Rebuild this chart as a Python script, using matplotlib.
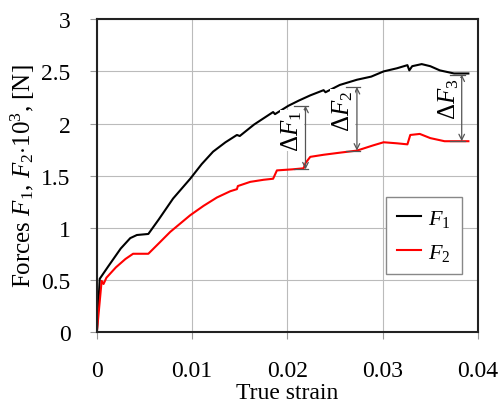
"""
    Forces F1, F2 vs true strain
"""
import matplotlib
matplotlib.use('Agg')
import matplotlib.pyplot as plt

plt.rcParams['font.family'] = ['Liberation Serif', 'DejaVu Serif']
plt.rcParams['mathtext.fontset'] = 'custom'
plt.rcParams['mathtext.rm'] = 'Liberation Serif'
plt.rcParams['mathtext.it'] = 'Liberation Serif:italic'

# Curve F1 (black)
strain_f1 = [0.0, 0.0003, 0.0012, 0.0025, 0.0035, 0.0042, 0.0054, 0.0065, 0.0080,
             0.0098, 0.0110, 0.0122, 0.0135, 0.0147, 0.0150, 0.0165, 0.0185, 0.0187,
             0.0201, 0.0212, 0.0224, 0.0238, 0.0240, 0.0255, 0.0273, 0.0288, 0.0301,
             0.0315, 0.0326, 0.0328, 0.0331, 0.0341, 0.0350, 0.0360, 0.0375, 0.0390]
force_f1 = [0.0, 0.51, 0.63, 0.80, 0.90, 0.93, 0.94, 1.08, 1.28,
            1.47, 1.61, 1.73, 1.82, 1.89, 1.88, 1.99, 2.11, 2.09,
            2.17, 2.22, 2.27, 2.32, 2.30, 2.37, 2.42, 2.45, 2.50,
            2.53, 2.56, 2.51, 2.55, 2.57, 2.55, 2.51, 2.48, 2.48]

# Curve F2 (red)
strain_f2 = [0.0, 0.0005, 0.0007, 0.0010, 0.0020, 0.0030, 0.0038, 0.0054, 0.0065,
             0.0077, 0.0098, 0.0112, 0.0126, 0.0140, 0.0147, 0.0148, 0.0161, 0.0175,
             0.0185, 0.0189, 0.0205, 0.0217, 0.0219, 0.0224, 0.0238, 0.0255, 0.0273,
             0.0290, 0.0301, 0.0315, 0.0326, 0.0329, 0.0339, 0.0350, 0.0365, 0.0390]
force_f2 = [0.0, 0.49, 0.46, 0.52, 0.62, 0.70, 0.75, 0.75, 0.85,
            0.96, 1.12, 1.21, 1.29, 1.35, 1.37, 1.40, 1.44, 1.46,
            1.47, 1.55, 1.56, 1.57, 1.62, 1.68, 1.70, 1.72, 1.74,
            1.79, 1.82, 1.81, 1.80, 1.89, 1.90, 1.86, 1.83, 1.83]

# Delta F arrows: strain, top, bottom, label position
delta_x = [0.0219, 0.0273, 0.0383]
delta_top = [2.17, 2.35, 2.47]
delta_bot = [1.56, 1.74, 1.83]
delta_lbl = ['Δ$F_1$', 'Δ$F_2$', 'Δ$F_3$']
lbl_x = [0.0205, 0.0258, 0.0369]
lbl_y = [1.93, 2.13, 2.24]

x_ticks = [0, 0.01, 0.02, 0.03, 0.04]
x_tick_labels = ['0', '0.01', '0.02', '0.03', '0.04']
y_ticks = [0, 0.5, 1, 1.5, 2, 2.5, 3]
y_tick_labels = ['0', '0.5', '1', '1.5', '2', '2.5', '3']

fig = plt.figure(figsize=(5.02, 4.06), dpi=100)
ax = fig.add_axes([0.193, 0.18, 0.759, 0.77])

ax.plot(strain_f1, force_f1, color='black', lw=1.5, label=r'$F_1$')
ax.plot(strain_f2, force_f2, color='red', lw=1.5, label=r'$F_2$')

for x, t, b, lab, lx, ly in zip(delta_x, delta_top, delta_bot, delta_lbl, lbl_x, lbl_y):
    ax.annotate('', xy=(x, t), xytext=(x, b),
                arrowprops=dict(arrowstyle='<->', color='#555555', lw=0.9,
                                shrinkA=0, shrinkB=0))
    ax.plot([x - 0.0012, x + 0.0003], [t, t], color='#555555', lw=0.9)
    ax.plot([x - 0.0012, x + 0.0003], [b, b], color='#555555', lw=0.9)
    ax.text(lx, ly, lab, rotation=90, ha='center', va='center', fontsize=18,
            bbox=dict(facecolor='white', edgecolor='none', pad=0.0))

ax.set_xlim(0, 0.04)
ax.set_ylim(0, 3)
ax.set_xticks(x_ticks)
ax.set_xticklabels(x_tick_labels)
ax.set_yticks(y_ticks)
ax.set_yticklabels(y_tick_labels)
ax.tick_params(labelsize=17, direction='out', length=5, color='#999999')
ax.tick_params(axis='x', pad=15)
ax.tick_params(axis='y', pad=14)
ax.grid(True, color='#bbbbbb', lw=0.8)
ax.set_axisbelow(True)
for s in ax.spines.values():
    s.set_linewidth(1.5)
    s.set_color('#222222')

ax.set_xlabel('True strain', fontsize=17, labelpad=1)
ax.set_ylabel(r'Forces $F_1$, $F_2$$\cdot$10$^3$, [N]', fontsize=18, labelpad=3)

leg = ax.legend(loc='lower right', bbox_to_anchor=(0.958, 0.185), fontsize=16,
                fancybox=False, edgecolor='#888888', framealpha=1,
                borderaxespad=0, handlelength=1.1, handletextpad=0.3,
                borderpad=0.5, labelspacing=0.6)
leg.get_frame().set_linewidth(1.0)

plt.savefig('out.png', dpi=100)
